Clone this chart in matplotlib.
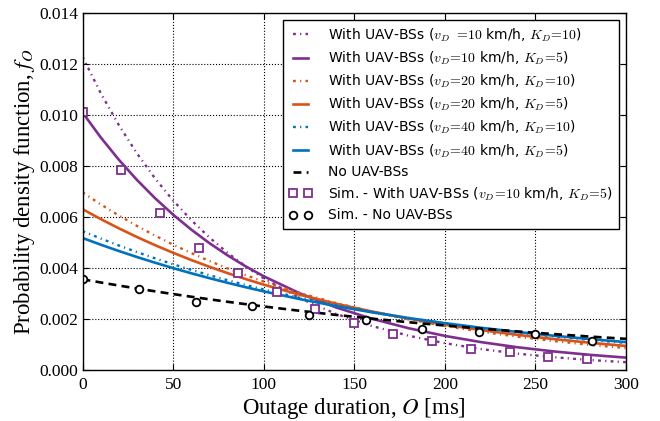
import matplotlib
matplotlib.use("Agg")
import matplotlib.pyplot as plt

# ---- data ----
t = [0, 10, 20, 30, 40, 50, 60, 70, 80, 90, 100,
     120, 140, 160, 180, 200, 220, 240, 260, 280, 300]

v10_k10 = [0.01229, 0.010869, 0.009613, 0.008502, 0.007520, 0.006651, 0.005882, 0.005202,
           0.004601, 0.004069, 0.003599,
           0.002815, 0.002202, 0.001722, 0.001347, 0.001054, 0.000824, 0.000645, 0.000504,
           0.000394, 0.000309]
v10_k5 = [0.01010, 0.009130, 0.008253, 0.007460, 0.006743, 0.006095, 0.005510, 0.004980,
          0.004502, 0.004069, 0.003679,
          0.003006, 0.002456, 0.002007, 0.001640, 0.001340, 0.001095, 0.000895, 0.000731,
          0.000597, 0.000488]
v20_k10 = [0.00697, 0.006501, 0.006063, 0.005655, 0.005274, 0.004919, 0.004588, 0.004279,
           0.003991, 0.003723, 0.003472,
           0.003020, 0.002627, 0.002286, 0.001988, 0.001730, 0.001505, 0.001309, 0.001139,
           0.000990, 0.000862]
v20_k5 = [0.00631, 0.005923, 0.005560, 0.005219, 0.004899, 0.004599, 0.004316, 0.004052,
          0.003803, 0.003570, 0.003351,
          0.002952, 0.002601, 0.002292, 0.002019, 0.001779, 0.001568, 0.001381, 0.001217,
          0.001072, 0.000945]
v40_k10 = [0.00545, 0.005161, 0.004887, 0.004628, 0.004382, 0.004150, 0.003930, 0.003721,
           0.003524, 0.003337, 0.003160,
           0.002833, 0.002541, 0.002278, 0.002043, 0.001832, 0.001643, 0.001473, 0.001321,
           0.001184, 0.001062]
v40_k5 = [0.00518, 0.004918, 0.004670, 0.004434, 0.004211, 0.003998, 0.003796, 0.003605,
          0.003423, 0.003250, 0.003086,
          0.002782, 0.002509, 0.002262, 0.002039, 0.001839, 0.001658, 0.001495, 0.001348,
          0.001215, 0.001096]
no_uav = [0.00356, 0.003436, 0.003315, 0.003199, 0.003088, 0.002980, 0.002876, 0.002775,
          0.002678, 0.002585, 0.002494,
          0.002323, 0.002163, 0.002015, 0.001876, 0.001747, 0.001627, 0.001516, 0.001411,
          0.001314, 0.001224]

sim_uav_t = [0, 21.4, 42.9, 64.3, 85.7, 107.1, 128.6, 150.0, 171.4, 192.9, 214.3, 235.7, 257.1, 278.6]
sim_uav_f = [0.01011, 0.00783, 0.00615, 0.00478, 0.00379, 0.00305, 0.00238, 0.00183,
             0.00141, 0.00114, 0.00084, 0.00069, 0.00052, 0.00042]

sim_no_t = [0, 31.25, 62.5, 93.75, 125.0, 156.25, 187.5, 218.75, 250.0, 281.25]
sim_no_f = [0.00356, 0.00318, 0.00265, 0.00250, 0.00215, 0.00196, 0.00162, 0.00150, 0.00142, 0.00115]

labels = [
    r'With UAV-BSs ($v_D$ $=\!10$ km/h, $K_D\!=\!10$)',
    r'With UAV-BSs ($v_D\!=\!10$ km/h, $K_D\!=\!5$)',
    r'With UAV-BSs ($v_D\!=\!20$ km/h, $K_D\!=\!10$)',
    r'With UAV-BSs ($v_D\!=\!20$ km/h, $K_D\!=\!5$)',
    r'With UAV-BSs ($v_D\!=\!40$ km/h, $K_D\!=\!10$)',
    r'With UAV-BSs ($v_D\!=\!40$ km/h, $K_D\!=\!5$)',
    'No UAV-BSs',
    r'Sim. - With UAV-BSs ($v_D\!=\!10$ km/h, $K_D\!=\!5$)',
    'Sim. - No UAV-BSs',
]

PURPLE = '#7E2F8E'
ORANGE = '#D95319'
BLUE = '#0072BD'

fig = plt.figure(figsize=(6.6, 4.21), dpi=100)
ax = fig.add_axes([0.125, 0.121, 0.8235, 0.848])

dd = (0, (1.2, 1.8, 0.5, 1.8))
lw_d = 1.7
lw_s = 1.9

ax.plot(t, v10_k10, color=PURPLE, ls=dd, lw=lw_d, label=labels[0])
ax.plot(t, v10_k5, color=PURPLE, ls='-', lw=lw_s, label=labels[1])
ax.plot(t, v20_k10, color=ORANGE, ls=dd, lw=lw_d, label=labels[2])
ax.plot(t, v20_k5, color=ORANGE, ls='-', lw=lw_s, label=labels[3])
ax.plot(t, v40_k10, color=BLUE, ls=dd, lw=lw_d, label=labels[4])
ax.plot(t, v40_k5, color=BLUE, ls='-', lw=lw_s, label=labels[5])
ax.plot(t, no_uav, color='black', ls=(0, (3, 2)), lw=1.9, label=labels[6])
ax.plot(sim_uav_t, sim_uav_f, ls='none', marker='s', ms=5.5, mfc='white', mec=PURPLE,
        mew=1.3, label=labels[7])
ax.plot(sim_no_t, sim_no_f, ls='none', marker='o', ms=5.5, mfc='white', mec='black',
        mew=1.3, label=labels[8])

ax.set_xlim(0, 300)
ax.set_ylim(0, 0.014)
ax.set_xticks([0, 50, 100, 150, 200, 250, 300])
ax.set_yticks([0.000, 0.002, 0.004, 0.006, 0.008, 0.010, 0.012, 0.014])
ax.set_yticklabels(['0.000', '0.002', '0.004', '0.006', '0.008', '0.010', '0.012', '0.014'])
ax.grid(True, ls=':', color='black', lw=0.8)
ax.tick_params(direction='in', top=True, right=True, length=4, width=0.8,
               labelsize=12.5, pad=3)
ax.tick_params(axis='x', pad=5)
for lab in ax.get_xticklabels() + ax.get_yticklabels():
    lab.set_fontfamily('Liberation Serif')
for s in ax.spines.values():
    s.set_linewidth(1.0)

ax.set_xlabel('Outage duration, $O$ [ms]', fontsize=16.5, family='Liberation Serif',
              math_fontfamily='stix', labelpad=2)
ax.set_ylabel('Probability density function, $f_O$', fontsize=16.5, family='Liberation Serif',
              math_fontfamily='stix', labelpad=2)

leg = ax.legend(loc='upper right', fontsize=10, numpoints=2, fancybox=False,
                framealpha=1, edgecolor='black', handlelength=1.7, borderpad=0.45,
                labelspacing=0.42, handletextpad=1.1, borderaxespad=0.5)
leg.get_frame().set_linewidth(1.0)
for txt in leg.get_texts():
    txt.set_fontfamily('DejaVu Sans')
    txt.set_math_fontfamily('cm')

fig.savefig('out.png', dpi=100, facecolor='white')
